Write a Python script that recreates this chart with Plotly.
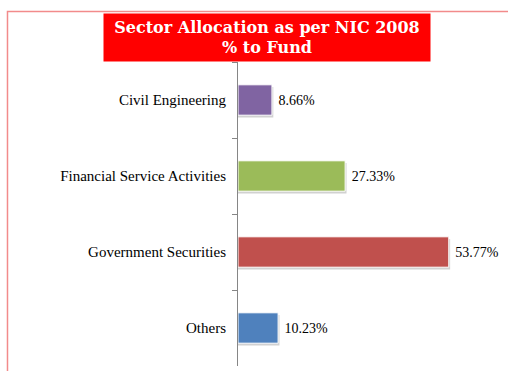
import plotly.graph_objects as go

categories = ["Civil Engineering", "Financial Service Activities", "Government Securities", "Others"]
values = [8.66, 27.33, 53.77, 10.23]
colors = ["#8064A2", "#9BBB59", "#C0504D", "#4F81BD"]
title_lines = ["Sector Allocation as per NIC 2008", "% to Fund"]

fig = go.Figure()

# soft shadow behind bars
fig.add_trace(go.Bar(
    y=categories, x=[v + 0.35 for v in values], orientation="h",
    width=0.4, offset=-0.17,
    marker=dict(color="rgba(0,0,0,0.18)", line=dict(width=0)),
    hoverinfo="skip", showlegend=False,
))
fig.add_trace(go.Bar(
    y=categories, x=values, orientation="h",
    width=0.4, offset=-0.2,
    marker=dict(color=colors, line=dict(color="white", width=1)),
    text=[f" {v:.2f}%" for v in values], textposition="outside",
    textfont=dict(family="Liberation Serif", size=14, color="black"),
    cliponaxis=False, showlegend=False,
))

fig.update_layout(
    width=508, height=371,
    margin=dict(l=238, r=8, t=62, b=5),
    paper_bgcolor="white", plot_bgcolor="white",
    barmode="overlay",
    font=dict(family="Liberation Serif", size=15, color="black"),
    xaxis=dict(range=[0, 66.84], visible=False, showgrid=False, zeroline=False),
    yaxis=dict(
        type="category", categoryorder="array", categoryarray=categories,
        range=[3.5, -0.5], showline=True, linecolor="#868686", linewidth=1,
        ticks="outside", tickson="boundaries", ticklen=5, tickcolor="#868686",
        showgrid=False, zeroline=False, automargin=False, ticklabelstandoff=8,
        tickfont=dict(family="Liberation Serif", size=15, color="black"),
    ),
    shapes=[dict(
        type="rect", xref="paper", yref="paper",
        x0=-0.8798, x1=1.05, y0=-0.05, y1=1.1661,
        line=dict(color="#f28b8b", width=1.5), fillcolor="rgba(0,0,0,0)",
        layer="below",
    )],
    annotations=[dict(
        text="<br>".join(title_lines), xref="paper", yref="paper",
        x=(267 - 238) / 262, y=(366 - 37.5) / 304, xanchor="center", yanchor="middle",
        showarrow=False, bgcolor="#FF0000", width=324, height=45,
        font=dict(family="DejaVu Serif", size=16, color="white", weight="bold"),
        align="center",
    )],
)

fig.write_html(
    "out.html",
    config={"displayModeBar": False},
    post_script="document.body.style.margin='0';document.body.style.overflow='hidden';",
)
